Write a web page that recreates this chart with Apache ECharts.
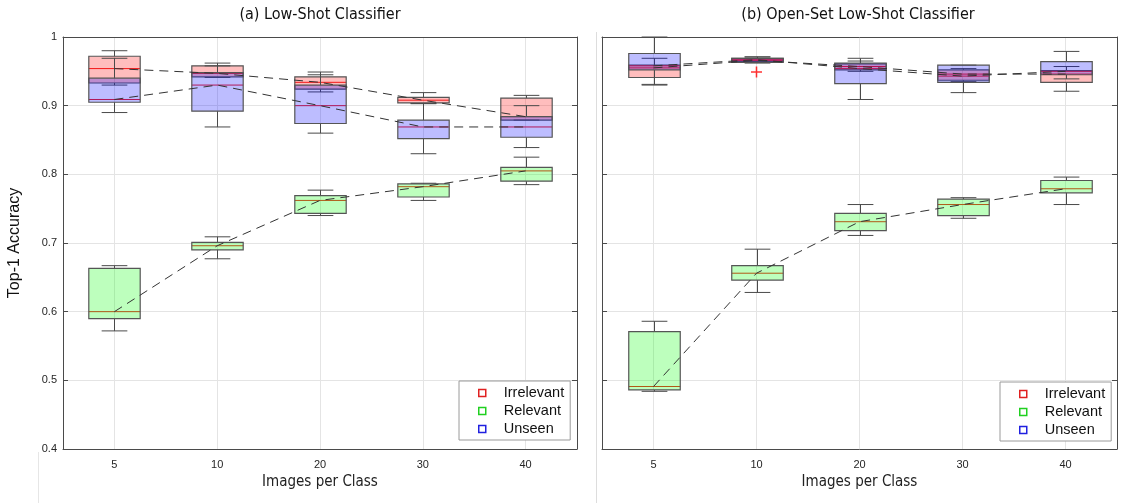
<!DOCTYPE html>
<html>
<head>
<meta charset="utf-8">
<script src="https://cdn.jsdelivr.net/npm/echarts@6/dist/echarts.min.js"></script>
<style>html,body{margin:0;padding:0;background:#fff;}#c{width:1144px;height:503px;}</style>
</head>
<body>
<div id="c"></div>
<script>
// ---- data (min, q1, median, q3, max) ----
const categories = ['5', '10', '20', '30', '40'];
const yTickMin = 0.4, yTickMax = 1, yTickStep = 0.1;

const leftIrrelevant = [[0.930,0.933,0.954,0.972,0.980],[0.941,0.942,0.947,0.958,0.962],[0.920,0.924,0.934,0.942,0.949],[0.903,0.904,0.908,0.912,0.919],[0.879,0.879,0.884,0.911,0.915]];
const leftRelevant   = [[0.572,0.590,0.600,0.663,0.667],[0.677,0.690,0.696,0.701,0.709],[0.740,0.743,0.762,0.769,0.777],[0.762,0.767,0.782,0.786,0.787],[0.785,0.790,0.805,0.810,0.825]];
const leftUnseen     = [[0.890,0.905,0.909,0.940,0.969],[0.869,0.892,0.930,0.948,0.958],[0.860,0.874,0.900,0.930,0.945],[0.830,0.852,0.869,0.879,0.903],[0.839,0.854,0.869,0.884,0.900]];

const rightIrrelevant = [[0.931,0.941,0.955,0.959,0.969],[0.963,0.964,0.966,0.969,0.971],[0.950,0.952,0.957,0.961,0.965],[0.935,0.937,0.946,0.952,0.954],[0.921,0.934,0.946,0.951,0.957]];
const rightRelevant   = [[0.484,0.486,0.491,0.571,0.586],[0.628,0.646,0.656,0.667,0.691],[0.711,0.718,0.731,0.743,0.756],[0.736,0.740,0.756,0.764,0.766],[0.756,0.773,0.779,0.791,0.796]];
const rightUnseen     = [[0.930,0.952,0.958,0.976,1.000],[0.962,0.963,0.967,0.969,0.971],[0.909,0.932,0.954,0.962,0.969],[0.919,0.934,0.943,0.959,0.959],[0.939,0.945,0.950,0.964,0.979]];
const rightIrrelevantOutliers = [['10', 0.949]];

const groupNames = ['Irrelevant', 'Relevant', 'Unseen'];
const fillColors = ['rgba(255,0,0,0.26)', 'rgba(0,255,0,0.26)', 'rgba(0,0,255,0.26)'];
const legendColors = ['#e02020', '#20d020', '#2020e0'];

const FONT = "'Liberation Sans', Arial, sans-serif";
const NARROW = "'Liberation Sans Narrow', 'DejaVu Sans Condensed', 'Liberation Sans', sans-serif";

function boxRender(fill) {
  return function (params, api) {
    const x = api.value(0);
    const v = [api.value(1), api.value(2), api.value(3), api.value(4), api.value(5)];
    const p = v.map(val => api.coord([x, val]));
    const band = api.size([1, 0])[0];
    const bw = band * 0.5, cw = band * 0.25;
    const cx = Math.round(p[0][0]) + 0.5;
    const line = (x1, y1, x2, y2, stroke, w) => ({
      type: 'line', shape: {x1, y1, x2, y2},
      style: {stroke, lineWidth: w || 1}
    });
    const wc = '#4a4a4a';
    return {
      type: 'group',
      children: [
        line(cx, p[0][1], cx, p[1][1], wc),
        line(cx, p[3][1], cx, p[4][1], wc),
        line(cx - cw / 2, p[0][1], cx + cw / 2, p[0][1], wc),
        line(cx - cw / 2, p[4][1], cx + cw / 2, p[4][1], wc),
        line(cx - bw / 2, p[2][1], cx + bw / 2, p[2][1], '#ee2020', 1),
        {
          type: 'rect',
          shape: {x: cx - bw / 2, y: p[3][1], width: bw, height: Math.max(p[1][1] - p[3][1], 1)},
          style: {fill: fill, stroke: '#555', lineWidth: 1.2}
        }
      ]
    };
  };
}

function toBoxData(arr) {
  return arr.map((d, i) => [i].concat(d));
}

function panelSeries(gi, groups, outliers) {
  const s = [];
  // vertical grid lines at category centres
  s.push({
    type: 'line', xAxisIndex: gi * 2, yAxisIndex: gi * 2, data: [], silent: true, z: 0,
    markLine: {
      silent: true, symbol: 'none', label: {show: false}, z: 0,
      lineStyle: {color: '#e4e4e4', type: 'solid', width: 1},
      data: categories.map(c => ({xAxis: c}))
    }
  });
  groups.forEach((g, k) => {
    s.push({
      type: 'custom', name: groupNames[k], xAxisIndex: gi * 2, yAxisIndex: gi * 2,
      renderItem: boxRender(fillColors[k]),
      itemStyle: {color: legendColors[k]},
      encode: {x: 0, y: [1, 2, 3, 4, 5]},
      data: toBoxData(g), z: 2
    });
  });
  groups.forEach((g, k) => {
    s.push({
      type: 'line', xAxisIndex: gi * 2, yAxisIndex: gi * 2,
      data: g.map(d => d[2]), symbol: 'none', silent: true, z: 3,
      lineStyle: {color: '#333', width: 1, type: [9, 6]}
    });
  });
  if (outliers) {
    s.push({
      type: 'scatter', xAxisIndex: gi * 2, yAxisIndex: gi * 2, data: outliers, z: 4,
      symbol: 'path://M4.3,0H5.7V4.3H10V5.7H5.7V10H4.3V5.7H0V4.3H4.3Z', symbolSize: 11,
      itemStyle: {color: '#ff0000'}, silent: true
    });
  }
  return s;
}

const grids = [
  {left: 63, top: 37, width: 514, height: 412},
  {left: 602, top: 37, width: 515, height: 412}
];

const xAxes = [], yAxes = [];
[0, 1].forEach(gi => {
  xAxes.push({
    type: 'category', gridIndex: gi, data: categories, boundaryGap: true,
    axisLine: {lineStyle: {color: '#4a4a4a', width: 1}},
    axisTick: {inside: true, alignWithLabel: true, length: 5, lineStyle: {color: '#4a4a4a'}},
    axisLabel: {color: '#262626', fontSize: 11, fontFamily: FONT, margin: 10},
    splitLine: {show: false},
    name: 'Images per Class', nameLocation: 'middle', nameGap: 26,
    nameTextStyle: {color: '#222', fontSize: 15, fontFamily: NARROW}
  });
  xAxes.push({
    type: 'category', gridIndex: gi, data: categories, boundaryGap: true, position: 'top',
    axisLine: {lineStyle: {color: '#4a4a4a', width: 1}},
    axisTick: {inside: true, alignWithLabel: true, length: 5, lineStyle: {color: '#4a4a4a'}},
    axisLabel: {show: false}, splitLine: {show: false}
  });
  yAxes.push({
    type: 'value', gridIndex: gi, min: yTickMin, max: yTickMax, interval: yTickStep,
    axisLine: {show: true, lineStyle: {color: '#4a4a4a', width: 1}},
    axisTick: {show: true, inside: true, length: 5, lineStyle: {color: '#4a4a4a'}},
    axisLabel: {show: gi === 0, color: '#262626', fontSize: 11, fontFamily: FONT, margin: 6,
      formatter: v => (Math.abs(v - 1) < 1e-9 ? '1' : v.toFixed(1))},
    splitLine: {show: true, lineStyle: {color: '#e4e4e4', width: 1}},
    name: gi === 0 ? 'Top-1 Accuracy' : '', nameLocation: 'middle', nameGap: 40,
    nameTextStyle: {color: '#111', fontSize: 16, fontFamily: FONT}
  });
  yAxes.push({
    type: 'value', gridIndex: gi, min: yTickMin, max: yTickMax, interval: yTickStep, position: 'right',
    axisLine: {show: true, lineStyle: {color: '#4a4a4a', width: 1}},
    axisTick: {show: true, inside: true, length: 5, lineStyle: {color: '#4a4a4a'}},
    axisLabel: {show: false}, splitLine: {show: false}
  });
});

const legendData = groupNames.map((n, k) => ({
  name: n, icon: 'rect',
  itemStyle: {color: '#ffffff', borderColor: legendColors[k], borderWidth: 1.5}
}));
function makeLegend(left, top) {
  return {
    left: left, top: top, orient: 'vertical', data: legendData,
    itemWidth: 7, itemHeight: 7, itemGap: 0,
    padding: [3, 6, 2, 19], borderColor: '#9a9a9a', borderWidth: 1, backgroundColor: '#fff',
    textStyle: {fontSize: 14.5, fontFamily: FONT, color: '#111', lineHeight: 18, padding: [0, 0, 0, 13]},
    selectedMode: false
  };
}

const series = [].concat(
  panelSeries(0, [leftIrrelevant, leftRelevant, leftUnseen]),
  panelSeries(1, [rightIrrelevant, rightRelevant, rightUnseen], rightIrrelevantOutliers)
);

const option = {
  animation: false,
  backgroundColor: '#ffffff',
  grid: grids,
  xAxis: xAxes,
  yAxis: yAxes,
  legend: [makeLegend(459, 381), makeLegend(1000, 382)],
  series: series,
  graphic: [
    {type: 'text', x: 320, y: 15, style: {text: '(a) Low-Shot Classifier', font: '16px ' + NARROW, fill: '#111', textAlign: 'center', textVerticalAlign: 'middle'}},
    {type: 'text', x: 858, y: 15, style: {text: '(b) Open-Set Low-Shot Classifier', font: '16px ' + NARROW, fill: '#111', textAlign: 'center', textVerticalAlign: 'middle'}},
    {type: 'line', shape: {x1: 596.5, y1: 32, x2: 596.5, y2: 503}, style: {stroke: '#dddddd', lineWidth: 1}},
    {type: 'line', shape: {x1: 38.5, y1: 452, x2: 38.5, y2: 503}, style: {stroke: '#e6e6e6', lineWidth: 1}}
  ]
};

const chart = echarts.init(document.getElementById('c'), null, {renderer: 'canvas'});
chart.setOption(option);
</script>
</body>
</html>
